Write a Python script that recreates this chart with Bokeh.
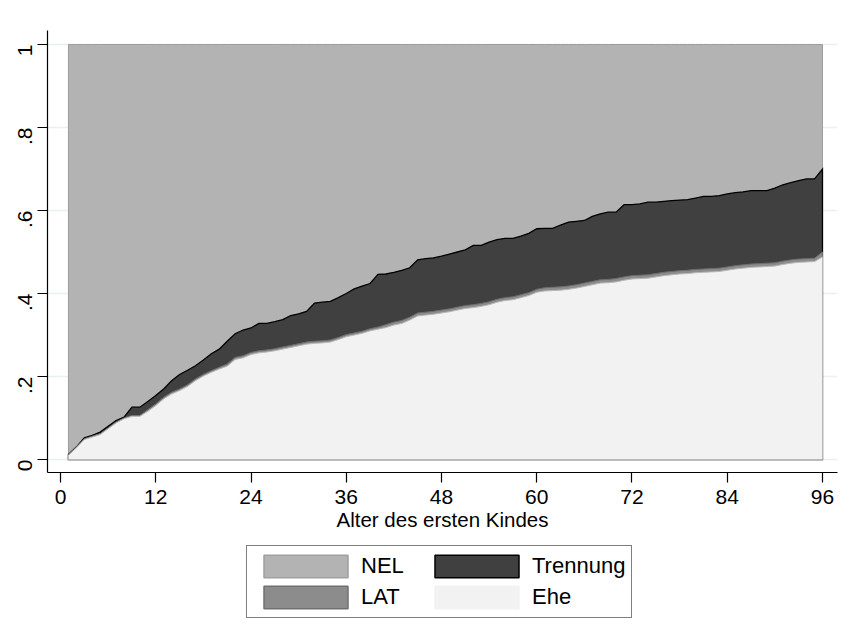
import numpy as np
from bokeh.plotting import figure
from bokeh.layouts import column
from bokeh.models import Range1d, Legend, LegendItem, FixedTicker
from bokeh.embed import file_html
from bokeh.resources import INLINE

months = list(range(1, 97))

ehe = [0.010, 0.028, 0.048, 0.054, 0.060, 0.074, 0.088, 0.098, 0.104, 0.104,
       0.116, 0.130, 0.146, 0.158, 0.166, 0.176, 0.190, 0.201, 0.210, 0.218,
       0.225, 0.241, 0.245, 0.253, 0.257, 0.259, 0.262, 0.266, 0.270, 0.274,
       0.278, 0.280, 0.281, 0.283, 0.289, 0.296, 0.300, 0.304, 0.310, 0.314,
       0.318, 0.324, 0.328, 0.336, 0.346, 0.348, 0.350, 0.353, 0.356, 0.360,
       0.364, 0.366, 0.369, 0.373, 0.379, 0.383, 0.385, 0.390, 0.395, 0.403,
       0.406, 0.407, 0.408, 0.410, 0.413, 0.417, 0.421, 0.425, 0.426, 0.428,
       0.432, 0.435, 0.436, 0.437, 0.440, 0.443, 0.445, 0.447, 0.448, 0.450,
       0.451, 0.452, 0.453, 0.456, 0.459, 0.461, 0.463, 0.464, 0.465, 0.466,
       0.470, 0.473, 0.475, 0.476, 0.477, 0.488]

lat = ([0.002] * 10 + [0.004] * 10 + [0.005] * 20 + [0.007] * 20
       + [0.008] * 35 + [0.012])

trennung = [0.000, 0.000, 0.002, 0.002, 0.004, 0.004, 0.004, 0.002, 0.020, 0.020,
            0.020, 0.020, 0.020, 0.028, 0.035, 0.035, 0.032, 0.035, 0.041, 0.044,
            0.055, 0.057, 0.062, 0.059, 0.066, 0.064, 0.065, 0.066, 0.072, 0.072,
            0.074, 0.092, 0.093, 0.093, 0.096, 0.099, 0.106, 0.109, 0.109, 0.127,
            0.122, 0.120, 0.121, 0.119, 0.128, 0.129, 0.129, 0.130, 0.132, 0.133,
            0.134, 0.143, 0.140, 0.144, 0.144, 0.143, 0.141, 0.141, 0.143, 0.146,
            0.143, 0.142, 0.149, 0.154, 0.153, 0.151, 0.157, 0.159, 0.162, 0.160,
            0.174, 0.171, 0.172, 0.175, 0.172, 0.171, 0.171, 0.170, 0.170, 0.172,
            0.175, 0.174, 0.175, 0.176, 0.176, 0.176, 0.177, 0.176, 0.175, 0.180,
            0.184, 0.186, 0.189, 0.192, 0.191, 0.200]

# NEL is the remaining share
nel = [round(1 - e - l - t, 3) for e, l, t in zip(ehe, lat, trennung)]

x_ticks = [0, 12, 24, 36, 48, 60, 72, 84, 96]
y_ticks = [0, 0.2, 0.4, 0.6, 0.8, 1]
y_labels = {0: "0", 0.2: ".2", 0.4: ".4", 0.6: ".6", 0.8: ".8", 1: "1"}

FONT = "Liberation Sans"

STYLES = {
    "NEL": dict(fill_color="#b3b3b3", line_color="#9c9c9c", line_width=1),
    "Trennung": dict(fill_color="#404040", line_color="#000000", line_width=1.3),
    "LAT": dict(fill_color="#8c8c8c", line_color="#6e6e6e", line_width=1),
    "Ehe": dict(fill_color="#f2f2f2", line_color="#b8b8b8", line_width=1),
}
LEGEND_STYLES = {
    "NEL": dict(fill_color="#b3b3b3", line_color="#a0a0a0", line_width=1.5),
    "Trennung": dict(fill_color="#404040", line_color="#000000", line_width=1.5),
    "LAT": dict(fill_color="#8c8c8c", line_color="#707070", line_width=1.5),
    "Ehe": dict(fill_color="#f2f2f2", line_color="#f2f2f2", line_width=1.5),
}

c1 = np.array(ehe)
c2 = c1 + np.array(lat)
c3 = c2 + np.array(trennung)
c4 = c3 + np.array(nel)

p = figure(width=845, height=540, output_backend="svg", toolbar_location=None,
           x_range=Range1d(-1.638, 97.89), y_range=Range1d(-0.0313, 1.0337),
           min_border_left=47, min_border_right=8, min_border_top=30,
           min_border_bottom=68)
p.outline_line_color = None
p.background_fill_color = "white"
p.border_fill_color = "white"

xs = months + [months[-1], months[0]]

def layer(cum, name):
    ys = list(cum) + [0, 0]
    return p.patch(xs, ys, line_join="miter", **STYLES[name])

layer(c4, "NEL")
layer(c3, "Trennung")
layer(c2, "LAT")
layer(c1, "Ehe")

# axes
p.xaxis.ticker = FixedTicker(ticks=x_ticks)
p.yaxis.ticker = FixedTicker(ticks=y_ticks)
p.yaxis.major_label_overrides = y_labels
p.yaxis.major_label_orientation = np.pi / 2
for ax in (p.xaxis, p.yaxis):
    ax.axis_line_color = "black"
    ax.axis_line_width = 1.2
    ax.major_tick_line_color = "black"
    ax.major_tick_line_width = 1.2
    ax.major_tick_out = 10
    ax.major_tick_in = 0
    ax.minor_tick_line_color = None
    ax.major_label_text_font = FONT
    ax.major_label_text_font_size = "21px"
    ax.major_label_text_color = "black"
p.yaxis.major_label_standoff = 12
p.xaxis.major_label_standoff = 7
p.xaxis.axis_label = "Alter des ersten Kindes"
p.xaxis.axis_label_text_font = FONT
p.xaxis.axis_label_text_font_size = "20.5px"
p.xaxis.axis_label_text_font_style = "normal"
p.xaxis.axis_label_text_color = "black"
p.xaxis.axis_label_standoff = 1

p.xgrid.grid_line_color = None
p.ygrid.ticker = FixedTicker(ticks=y_ticks)
p.ygrid.grid_line_color = "#e8f0f2"
p.ygrid.grid_line_width = 1.5

# legend figure below the chart
lg = figure(width=845, height=96, output_backend="svg", toolbar_location=None,
            x_range=Range1d(0, 845), y_range=Range1d(0, 96),
            min_border_left=0, min_border_right=0, min_border_top=0,
            min_border_bottom=0)
lg.axis.visible = False
lg.grid.grid_line_color = None
lg.outline_line_color = None
lg.border_fill_color = "white"

order = ["NEL", "LAT", "Trennung", "Ehe"]  # Bokeh fills the grid column by column
items = []
for name in order:
    # proxy glyphs outside the visible range, used only for the legend swatches
    r = lg.quad(left=[-200], right=[-190], top=[-190], bottom=[-200],
                **LEGEND_STYLES[name])
    items.append(LegendItem(label=name, renderers=[r]))

legend = Legend(items=items, ncols=2, location=(199, 18))
legend.glyph_width = 105
legend.glyph_height = 28
legend.label_text_font = FONT
legend.label_text_font_size = "22px"
legend.label_text_color = "black"
legend.label_standoff = 3
legend.label_width = 60
legend.spacing = 3
legend.padding = 6
legend.margin = 0
legend.border_line_color = "black"
legend.border_line_width = 1.5
legend.background_fill_color = "white"
legend.background_fill_alpha = 1
lg.add_layout(legend, "center")

layout = column(p, lg, spacing=0)
open("out.html", "w").write(file_html(layout, INLINE))
